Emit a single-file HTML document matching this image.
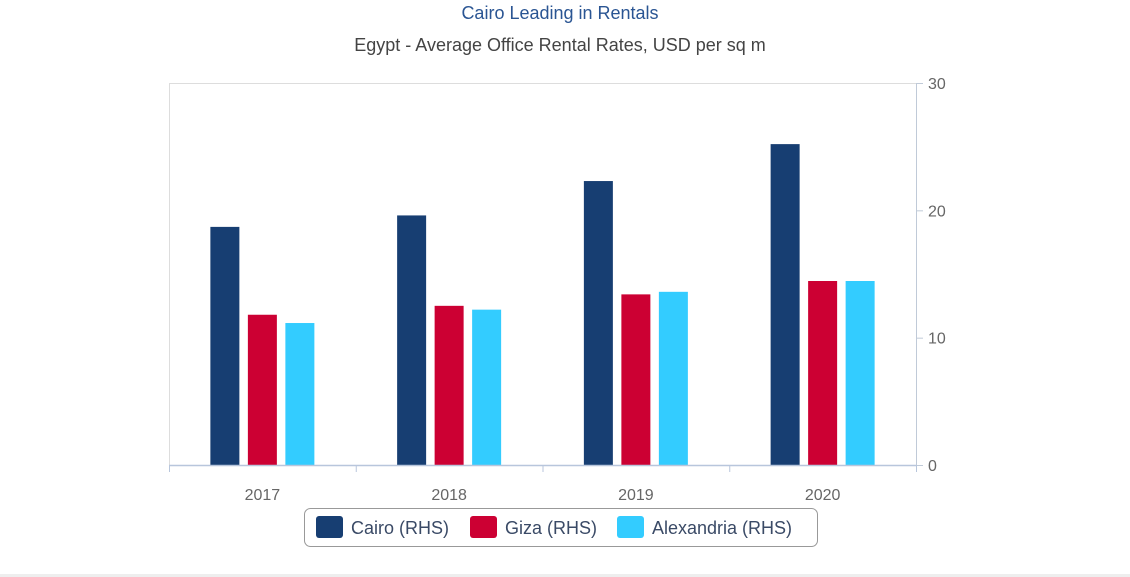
<!DOCTYPE html>
<html><head><meta charset="utf-8"><style>
html,body{margin:0;padding:0;background:#fff;width:1130px;height:577px;overflow:hidden;font-family:"Liberation Sans",sans-serif}
</style></head><body>
<svg width="1130" height="577">
<rect x="0" y="574" width="1130" height="3" fill="#eeeeee"/>
<text x="560" y="19" text-anchor="middle" font-size="18" fill="#2a5593">Cairo Leading in Rentals</text>
<text x="560" y="51" text-anchor="middle" font-size="18" fill="#444">Egypt - Average Office Rental Rates, USD per sq m</text>
<g id="plot"></g>
<g>
<rect x="304.5" y="508.5" width="513" height="38" rx="6" fill="#fff" stroke="#999"/>
<rect x="316" y="516" width="27" height="22" rx="3" fill="#173e72"/>
<text x="351" y="534" font-size="18" fill="#3a4a66">Cairo (RHS)</text>
<rect x="470" y="516" width="27" height="22" rx="3" fill="#cc0033"/>
<text x="505" y="534" font-size="18" fill="#3a4a66">Giza (RHS)</text>
<rect x="617" y="516" width="27" height="22" rx="3" fill="#33ccff"/>
<text x="652" y="534" font-size="18" fill="#3a4a66">Alexandria (RHS)</text>
</g>
</svg>
<script>
const categories=["2017","2018","2019","2020"];
const cairo=[18.7,19.6,22.3,25.2];
const giza=[11.8,12.5,13.4,14.45];
const alexandria=[11.15,12.2,13.6,14.45];
const yTicks=[0,10,20,30];
const NS="http://www.w3.org/2000/svg";
const L=169,R=916,T=83,B=465,ymax=30;
const y=v=>B-(v/ymax)*(B-T);
const bw=(R-L)/categories.length;
const x=i=>L+bw*i+bw/2;
const g=document.getElementById('plot');
function mk(t,a){const e=document.createElementNS(NS,t);for(const k in a)e.setAttribute(k,a[k]);g.appendChild(e);return e;}
let e=mk('line',{x1:L,y1:T+0.5,x2:R,y2:T+0.5,stroke:'#ddd'});


e=mk('line',{x1:L+0.5,y1:T,x2:L+0.5,y2:B,stroke:'#ddd'});


e=mk('line',{x1:R+0.5,y1:T,x2:R+0.5,y2:B,stroke:'#c0cad8'});


yTicks.forEach(t=>{
 let l=mk('line',{x1:R,y1:y(t)+0.5,x2:R+7,y2:y(t)+0.5,stroke:'#c0cad8'});
 
 
 let tx=mk('text',{x:R+12,y:y(t)+6,'font-size':16,fill:'#666'});
 tx.textContent=t;
 
 
});
const series=[[cairo,'#173e72','cairo'],[giza,'#cc0033','giza'],[alexandria,'#33ccff','alexandria']];
const barW=29,gap=8.5;
categories.forEach((c,i)=>{
 series.forEach((s,j)=>{
  const bx=x(i)+(j-1)*(barW+gap)-barW/2;
  let r=mk('rect',{x:bx,y:y(s[0][i]),width:barW,height:B-y(s[0][i]),fill:s[1]});
  
  
 });
 let tx=mk('text',{x:x(i),y:500,'text-anchor':'middle','font-size':16,fill:'#666'});
 tx.textContent=c;
 
 
});
e=mk('line',{x1:L,y1:B+0.5,x2:R,y2:B+0.5,stroke:'#b8c6dc','stroke-width':1.5});


for(let i=0;i<=categories.length;i++){
 let l=mk('line',{x1:L+bw*i+0.5,y1:B,x2:L+bw*i+0.5,y2:B+7,stroke:'#b8c6dc'});
 
 
}
</script>
</body></html>
